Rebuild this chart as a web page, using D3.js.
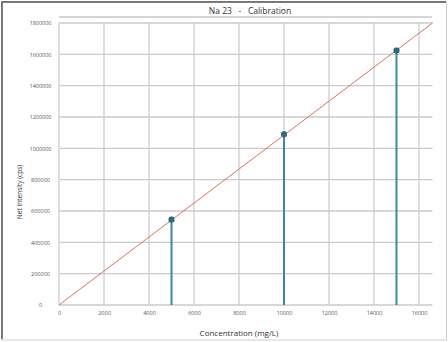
<!DOCTYPE html>
<html><head><meta charset="utf-8">
<script src="https://cdn.jsdelivr.net/npm/d3@7"></script>
<style>html,body{margin:0;padding:0;background:#fff;}svg{display:block;}</style>
</head><body>
<script>
const title = "Na 23   -   Calibration";
const xTitle = "Concentration (mg/L)";
const yTitle = "Net Intensity (cps)";
const xTicks = [0, 2000, 4000, 6000, 8000, 10000, 12000, 14000, 16000];
const yTicks = [0, 200000, 400000, 600000, 800000, 1000000, 1200000, 1400000, 1600000, 1800000];
const stdConc = [5000, 10000, 15000];
const stdIntensity = [545000, 1090000, 1625000];
const fitConc = [0, 16600];
const fitIntensity = [0, 1800000];

const W = 448, H = 342;
const svg = d3.select("body").append("svg").attr("width", W).attr("height", H);
const font = "'Open Sans', 'Liberation Sans', sans-serif";

// frame
svg.append("rect").attr("x",1.5).attr("y",1.5).attr("width",W-3).attr("height",H-3.5)
  .attr("fill","#fff").attr("stroke","#cfcfcf").attr("stroke-width",1);
svg.append("path").attr("d",`M2,${H-3} L2,2 L${W-2},2`).attr("fill","none")
  .attr("stroke","#555").attr("stroke-width",1.5);

const x = d3.scaleLinear().domain([0, 16600]).range([59, 432.5]);
const y = d3.scaleLinear().domain([0, 1800000]).range([305, 23]);

// title
svg.append("text").attr("x",250).attr("y",14).attr("text-anchor","middle")
  .attr("font-family",font).attr("font-size",8.5).attr("fill","#333").text(title)
  .style("white-space","pre");
svg.append("line").attr("x1",59).attr("x2",432).attr("y1",17).attr("y2",17)
  .attr("stroke","#a9acb0").attr("stroke-width",1);

// grid
const grid = svg.append("g");
grid.selectAll(".vx").data(xTicks).join("line")
  .attr("x1",d=>x(d)).attr("x2",d=>x(d)).attr("y1",y(1800000)).attr("y2",y(0))
  .attr("stroke","#c9ccd0").attr("stroke-width",1.3);
grid.selectAll(".hy").data(yTicks).join("line")
  .attr("x1",x(0)).attr("x2",x(16600)).attr("y1",d=>y(d)).attr("y2",d=>y(d))
  .attr("stroke","#c9ccd0").attr("stroke-width",1.3);

// axes labels via d3 axes
const xAxis = svg.append("g").attr("transform",`translate(0,${y(0)})`)
  .call(d3.axisBottom(x).tickValues(xTicks).tickSize(0).tickPadding(6).tickFormat(d3.format("d")));
xAxis.select(".domain").remove();
xAxis.selectAll("text").attr("font-family",font).attr("font-size",5.5).attr("fill","#555");

const yAxis = svg.append("g").attr("transform",`translate(${x(0)},0)`)
  .call(d3.axisLeft(y).tickValues(yTicks).tickSize(0).tickPadding(0).tickFormat(d3.format("d")));
yAxis.select(".domain").remove();
yAxis.selectAll("text").attr("font-family",font).attr("font-size",5.5).attr("fill","#555")
  .attr("text-anchor","middle").attr("x",-18.5);

// axis titles
svg.append("text").attr("x",239).attr("y",336).attr("text-anchor","middle")
  .attr("font-family",font).attr("font-size",8).attr("fill","#333").text(xTitle);
svg.append("text").attr("transform","translate(22,192) rotate(-90)").attr("text-anchor","middle")
  .attr("font-family",font).attr("font-size",6.5).attr("fill","#333").text(yTitle);

// fit line
const fit = fitConc.map((c,i)=>[c, fitIntensity[i]]);
svg.append("path").datum(fit)
  .attr("d", d3.line().x(d=>x(d[0])).y(d=>y(d[1])))
  .attr("fill","none").attr("stroke","#e56f5c").attr("stroke-width",1);

// stems and markers
const pts = stdConc.map((c,i)=>[c, stdIntensity[i]]);
svg.append("g").selectAll("line").data(pts).join("line")
  .attr("x1",d=>x(d[0])).attr("x2",d=>x(d[0])).attr("y1",y(0)).attr("y2",d=>y(d[1]))
  .attr("stroke","#3c87a3").attr("stroke-width",2);
svg.append("g").selectAll("rect").data(pts).join("rect")
  .attr("x",d=>x(d[0])-3).attr("y",d=>y(d[1])-3).attr("width",6).attr("height",6)
  .attr("rx",2.2).attr("fill","#2e6a7e");
</script>
</body></html>
